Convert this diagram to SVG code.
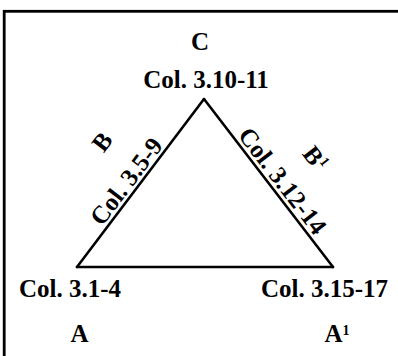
<svg xmlns="http://www.w3.org/2000/svg" width="398" height="356" viewBox="0 0 398 356">
<style>
.t{font-family:"Liberation Serif","Times New Roman",serif;font-weight:bold;font-size:25px;fill:#000}
.m{text-anchor:middle}
.sup{font-size:14px}
.edge{stroke:#000;stroke-width:2.6;fill:none;stroke-linecap:round}
</style>
<rect x="4.2" y="11.3" width="420" height="370" fill="#fff" stroke="#000" stroke-width="2.8"/>
<g id="connectors">
<line class="edge" x1="77" y1="267" x2="204" y2="99"/>
<line class="edge" x1="204" y1="99" x2="333" y2="267"/>
<line class="edge" x1="77" y1="267" x2="333" y2="267"/>
</g>
<g id="nodeC">
<text class="t m" x="200" y="50">C</text>
<text class="t m" x="206" y="88">Col. 3.10-11</text>
</g>
<g id="nodeB">
<text class="t m" transform="translate(108.8,146.9) rotate(-52.9)">B</text>
<text class="t m" transform="translate(132.9,186.4) rotate(-52.9)">Col. 3.5-9</text>
</g>
<g id="nodeB1">
<text class="t" transform="translate(301.6,153.9) rotate(52.5)">B<tspan class="sup" dy="-9">1</tspan></text>
<text class="t m" transform="translate(276,186) rotate(52.5)">Col. 3.12-14</text>
</g>
<g id="nodeA">
<text class="t m" x="70" y="297">Col. 3.1-4</text>
<text class="t m" x="79.5" y="342">A</text>
</g>
<g id="nodeA1">
<text class="t m" x="324.5" y="297">Col. 3.15-17</text>
<text class="t" x="324.5" y="342">A<tspan class="sup" dy="-7">1</tspan></text>
</g>
</svg>
